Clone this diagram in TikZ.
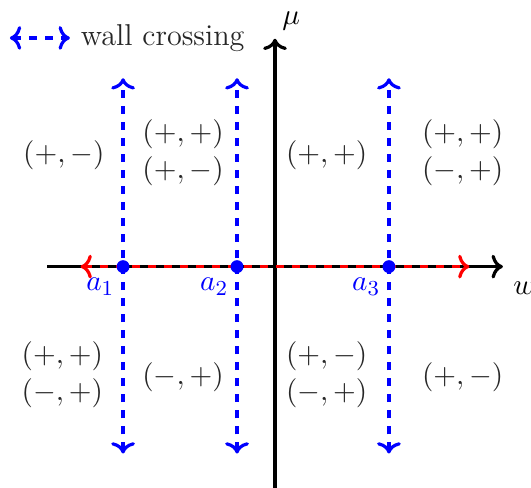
\documentclass[tikz,border=0pt]{standalone}
\usepackage{amsmath,amssymb}
\usepackage{xcolor}
\usetikzlibrary{arrows.meta,positioning}

\begin{document}
\begin{tikzpicture}[
    axis/.style={->, very thick},
    wall/.style={<->, very thick, dashed, blue},
    flow/.style={<->, very thick, dashed, red},
    pole/.style={circle, fill=blue, inner sep=0pt, minimum size=1.7mm},
    polelabel/.style={below left=0.3mm and -0.1mm, blue, font=\fontsize{11.3}{13}\selectfont},
    sign/.style={align=center, text=black!85, font=\fontsize{11.3}{14}\selectfont}
]
\useasboundingbox (-3.62,-2.91) rectangle (3.37,3.51);

% axes
\coordinate (wl) at (-3,0);
\coordinate (wr) at (3,0);
\coordinate (mb) at (0,-2.95);
\coordinate (mt) at (0,3);
\draw[axis] (wl) -- (wr) node[below right=0.6mm and 0mm, font=\fontsize{11.3}{13}\selectfont] (wlab) {$w$};
\draw[axis] (mb) -- (mt) node[above right=-0.2mm and -0.4mm, font=\fontsize{11.3}{13}\selectfont] (mlab) {$\mu$};

% walls
\foreach \i/\x in {1/-2, 2/-0.5, 3/1.5} {
  \coordinate (top\i) at (\x,2.48);
  \coordinate (bot\i) at (\x,-2.46);
  \draw[wall] (bot\i) -- (top\i);
}
\coordinate (fl) at (-2.56,0);
\coordinate (fr) at (2.56,0);
\draw[flow] (fl) -- (fr);

\node[pole] (a1) at (-2,0) {};
\node[pole] (a2) at (-0.5,0) {};
\node[pole] (a3) at (1.5,0) {};
\node[polelabel] at (a1) {$a_1$};
\node[polelabel] at (a2) {$a_2$};
\node[polelabel] at (a3) {$a_3$};

% chambers
\node[sign] (c1) at (-2.78,1.47) {$(+,-)$};
\node[sign] (c2) at (-1.21,1.5)  {$(+,+)$\\$(+,-)$};
\node[sign] (c3) at (0.68,1.47)  {$(+,+)$};
\node[sign] (c4) at (2.47,1.5)   {$(+,+)$\\$(-,+)$};
\node[sign] (c5) at (-2.8,-1.42) {$(+,+)$\\$(-,+)$};
\node[sign] (c6) at (-1.21,-1.46){$(-,+)$};
\node[sign] (c7) at (0.68,-1.42) {$(+,-)$\\$(-,+)$};
\node[sign] (c8) at (2.47,-1.46) {$(+,-)$};

% legend
\coordinate (lgl) at (-3.49,3.01);
\coordinate (lgr) at (-2.7,3.01);
\draw[wall] (lgl) -- (lgr);
\node[right=0.2mm of lgr, font=\fontsize{11.3}{13}\selectfont, text=black!85] (lgtext) {wall crossing};
\end{tikzpicture}
\end{document}
